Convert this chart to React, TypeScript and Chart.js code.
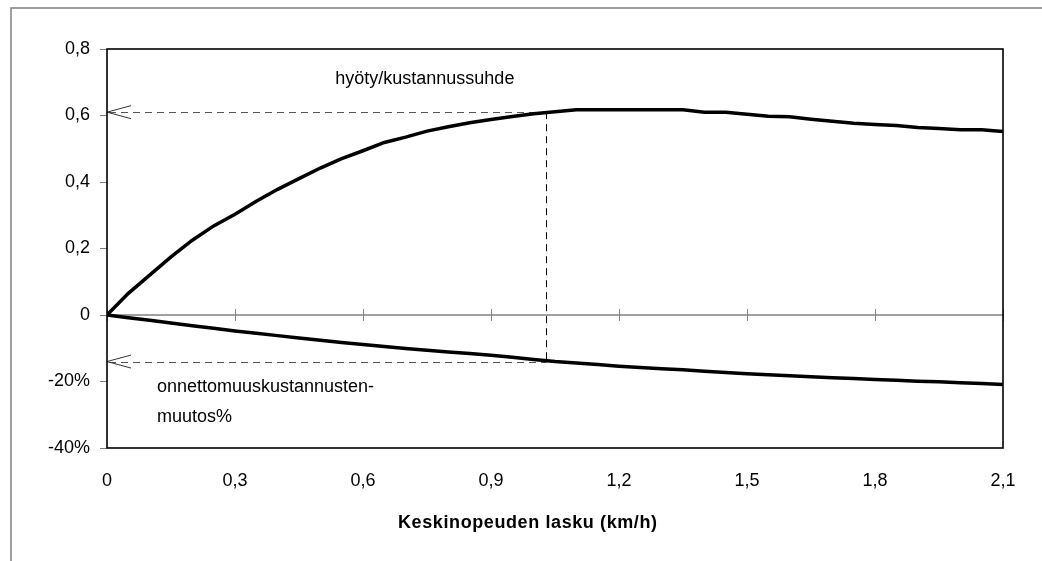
import React, { useEffect, useRef } from "react";
import { Chart, registerables } from "chart.js";

Chart.register(...registerables);

// ---- data ----
const speedDrop = [
  0, 0.05, 0.1, 0.15, 0.2, 0.25, 0.3, 0.35, 0.4, 0.45, 0.5, 0.55, 0.6, 0.65, 0.7,
  0.75, 0.8, 0.85, 0.9, 0.95, 1.0, 1.05, 1.1, 1.15, 1.2, 1.25, 1.3, 1.35, 1.4,
  1.45, 1.5, 1.55, 1.6, 1.65, 1.7, 1.75, 1.8, 1.85, 1.9, 1.95, 2.0, 2.05, 2.1,
];
const benefitCostRatio = [
  0, 0.065, 0.12, 0.175, 0.225, 0.268, 0.303, 0.342, 0.378, 0.41, 0.442, 0.47,
  0.494, 0.519, 0.535, 0.553, 0.566, 0.578, 0.588, 0.597, 0.605, 0.611, 0.617,
  0.617, 0.617, 0.617, 0.617, 0.617, 0.61, 0.61, 0.604, 0.598, 0.596, 0.589,
  0.583, 0.577, 0.573, 0.57, 0.564, 0.561, 0.557, 0.557, 0.552,
];
const accidentCostChange = [
  0, -0.008, -0.016, -0.024, -0.032, -0.04, -0.048, -0.055, -0.062, -0.069,
  -0.076, -0.083, -0.089, -0.095, -0.101, -0.106, -0.111, -0.116, -0.121,
  -0.127, -0.134, -0.14, -0.144, -0.149, -0.154, -0.158, -0.162, -0.165,
  -0.169, -0.173, -0.177, -0.18, -0.183, -0.186, -0.189, -0.191, -0.194,
  -0.196, -0.199, -0.201, -0.204, -0.206, -0.209,
];
const xTicks = [0, 0.3, 0.6, 0.9, 1.2, 1.5, 1.8, 2.1];
const xTickLabels = ["0", "0,3", "0,6", "0,9", "1,2", "1,5", "1,8", "2,1"];
const yTicks = [-0.4, -0.2, 0, 0.2, 0.4, 0.6, 0.8];
const yTickLabels = ["-40%", "-20%", "0", "0,2", "0,4", "0,6", "0,8"];

const arrowX = 1.03;
const ratioArrowY = 0.61;
const costArrowY = -0.14;

const ratioLabel = "hyöty/kustannussuhde";
const costLabelLines = ["onnettomuuskustannusten-", "muutos%"];
const xTitle = "Keskinopeuden lasku (km/h)";

const FONT = '"Liberation Sans", Arial, sans-serif';

const overlay = {
  id: "overlay",
  beforeDatasetsDraw(chart: any) {
    const { ctx, chartArea: a, scales } = chart;
    const xs = scales.x;
    const ys = scales.y;
    ctx.save();
    // zero line with tick marks
    const y0 = ys.getPixelForValue(0);
    ctx.strokeStyle = "#808080";
    ctx.lineWidth = 1.5;
    ctx.beginPath();
    ctx.moveTo(a.left, y0);
    ctx.lineTo(a.right, y0);
    ctx.stroke();
    ctx.lineWidth = 1;
    xTicks.forEach((t) => {
      const px = Math.round(xs.getPixelForValue(t)) + 0.5;
      ctx.beginPath();
      ctx.moveTo(px, y0 - 6);
      ctx.lineTo(px, y0 + 6);
      ctx.stroke();
    });
    // dashed guide lines
    const ax = xs.getPixelForValue(arrowX);
    const yu = ys.getPixelForValue(ratioArrowY);
    const yl = ys.getPixelForValue(costArrowY);
    ctx.strokeStyle = "#555";
    ctx.lineWidth = 1;
    ctx.setLineDash([7, 5]);
    ctx.beginPath();
    ctx.moveTo(a.left + 2, Math.round(yu) + 0.5);
    ctx.lineTo(ax, Math.round(yu) + 0.5);
    ctx.moveTo(a.left + 2, Math.round(yl) + 0.5);
    ctx.lineTo(ax, Math.round(yl) + 0.5);
    ctx.stroke();
    ctx.strokeStyle = "#000";
    ctx.beginPath();
    ctx.moveTo(Math.round(ax) + 0.5, yu);
    ctx.lineTo(Math.round(ax) + 0.5, yl);
    ctx.stroke();
    ctx.setLineDash([]);
    // arrow heads
    ctx.strokeStyle = "#333";
    [yu, yl].forEach((yy) => {
      ctx.beginPath();
      ctx.moveTo(a.left + 24, yy - 6.5);
      ctx.lineTo(a.left, yy);
      ctx.lineTo(a.left + 24, yy + 6.5);
      ctx.stroke();
    });
    ctx.restore();
  },
  afterDraw(chart: any) {
    const { ctx, chartArea: a, scales } = chart;
    const xs = scales.x;
    const ys = scales.y;
    ctx.save();
    // plot border
    ctx.strokeStyle = "#000";
    ctx.lineWidth = 1.6;
    ctx.strokeRect(a.left, a.top, a.right - a.left, a.bottom - a.top);
    // outer frame
    ctx.strokeStyle = "#808080";
    ctx.lineWidth = 1.5;
    ctx.beginPath();
    ctx.moveTo(11, chart.height);
    ctx.lineTo(11, 8);
    ctx.lineTo(chart.width, 8);
    ctx.stroke();
    // annotations
    ctx.fillStyle = "#000";
    ctx.font = `18px ${FONT}`;
    ctx.textAlign = "left";
    ctx.textBaseline = "middle";
    ctx.fillText(ratioLabel, xs.getPixelForValue(0.535), ys.getPixelForValue(0.71));
    ctx.fillText(costLabelLines[0], xs.getPixelForValue(0.117), ys.getPixelForValue(-0.218));
    ctx.fillText(costLabelLines[1], xs.getPixelForValue(0.117), ys.getPixelForValue(-0.308));
    // x title
    ctx.font = `bold 18px ${FONT}`;
    (ctx as any).letterSpacing = "0.6px";
    ctx.fillText(xTitle, 398, 523);
    ctx.restore();
  },
};

export default function App() {
  const ref = useRef<HTMLCanvasElement | null>(null);
  useEffect(() => {
    if (!ref.current) return;
    const chart = new Chart(ref.current, {
      type: "line",
      data: {
        datasets: [
          {
            label: "hyöty/kustannussuhde",
            data: speedDrop.map((x, i) => ({ x, y: benefitCostRatio[i] })),
            borderColor: "#000",
            borderWidth: 3.5,
            pointRadius: 0,
            tension: 0,
            fill: false,
          },
          {
            label: "onnettomuuskustannusten muutos%",
            data: speedDrop.map((x, i) => ({ x, y: accidentCostChange[i] })),
            borderColor: "#000",
            borderWidth: 3.5,
            pointRadius: 0,
            tension: 0,
            fill: false,
          },
        ],
      },
      options: {
        responsive: false,
        animation: false,
        layout: { padding: { left: 0, top: 49, right: 39, bottom: 0 } },
        plugins: { legend: { display: false }, tooltip: { enabled: false } },
        scales: {
          x: {
            type: "linear",
            min: 0,
            max: 2.1,
            afterBuildTicks: (s: any) => {
              s.ticks = xTicks.map((v) => ({ value: v }));
            },
            afterFit: (s: any) => {
              s.height = 113;
            },
            grid: { display: false, drawTicks: false },
            border: { display: false },
            ticks: {
              padding: 22,
              color: "#000",
              font: { size: 18, family: FONT },
              maxRotation: 0,
              autoSkip: false,
              callback: (v: any) => {
                const i = xTicks.findIndex((t) => Math.abs(t - v) < 1e-6);
                return i >= 0 ? xTickLabels[i] : "";
              },
            },
          },
          y: {
            type: "linear",
            min: -0.4,
            max: 0.8,
            afterBuildTicks: (s: any) => {
              s.ticks = yTicks.map((v) => ({ value: v }));
            },
            afterFit: (s: any) => {
              s.width = 107;
            },
            grid: {
              drawOnChartArea: false,
              drawTicks: true,
              tickLength: 7,
              color: "#808080",
              lineWidth: 1,
            },
            border: { display: false },
            ticks: {
              padding: 10,
              color: "#000",
              font: { size: 18, family: FONT },
              autoSkip: false,
              callback: (v: any) => {
                const i = yTicks.findIndex((t) => Math.abs(t - v) < 1e-6);
                return i >= 0 ? yTickLabels[i] : "";
              },
            },
          },
        },
      },
      plugins: [overlay],
    });
    return () => chart.destroy();
  }, []);
  return (
    <div style={{ position: "absolute", left: 0, top: 0, width: 1042, height: 561, background: "#fff" }}>
      <canvas ref={ref} width={1042} height={561} />
    </div>
  );
}
